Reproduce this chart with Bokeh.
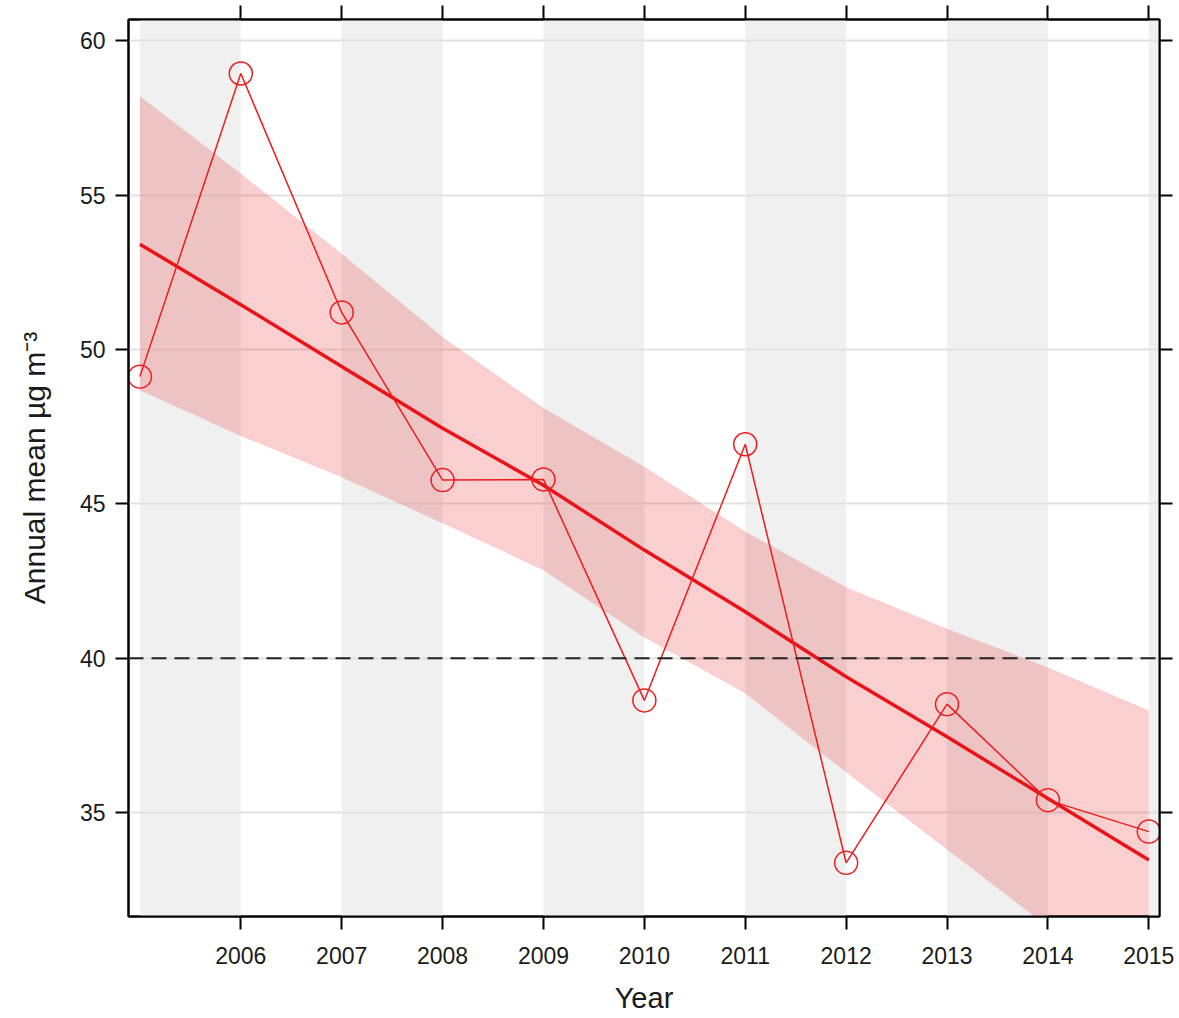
from bokeh.plotting import figure
from bokeh.models import Range1d, FixedTicker, LinearAxis, Span
from bokeh.embed import file_html
from bokeh.resources import INLINE

years = [2005, 2006, 2007, 2008, 2009, 2010, 2011, 2012, 2013, 2014, 2015]
annual_mean = [49.12, 58.94, 51.2, 45.77, 45.79, 38.63, 46.93, 33.37, 38.51, 35.4, 34.38]
trend = [53.41, 51.45, 49.45, 47.45, 45.6, 43.5, 41.5, 39.4, 37.45, 35.45, 33.46]
band_upper = [58.2, 55.7, 53.1, 50.4, 48.1, 46.2, 44.1, 42.3, 40.95, 39.7, 38.3]
band_lower = [48.68, 47.2, 45.86, 44.37, 42.85, 40.67, 38.86, 36.3, 33.8, 31.3, 29.8]
shade_left = [2005, 2007, 2009, 2011, 2013, 2015]
shade_right = [2006, 2008, 2010, 2012, 2014, 2016]
x_ticks = [2006, 2007, 2008, 2009, 2010, 2011, 2012, 2013, 2014, 2015]
y_ticks = [35, 40, 45, 50, 55, 60]
limit_value = 40

FONT = "Liberation Sans"
TXT = "#1a1a1a"

p = figure(frame_width=1031, frame_height=897,
           x_range=Range1d(2004.887, 2015.106), y_range=Range1d(31.63, 60.69),
           output_backend="svg", toolbar_location=None,
           min_border_left=128, min_border_top=19, min_border_right=16, min_border_bottom=102,
           x_axis_location="below", y_axis_location="left")
p.background_fill_color = "white"
p.border_fill_color = "white"
p.outline_line_color = "black"
p.outline_line_width = 2

# background shading
p.quad(left=shade_left, right=shade_right, bottom=0, top=100,
       fill_color="#f0f0f0", line_color=None, level="image")

p.xgrid.visible = False
p.ygrid.ticker = FixedTicker(ticks=y_ticks)
p.ygrid.grid_line_color = "#e2e2e2"
p.ygrid.grid_line_width = 2

# confidence band
p.varea(x=years, y1=band_lower, y2=band_upper, fill_color="#dd0000", fill_alpha=0.19)

# threshold
p.add_layout(Span(location=limit_value, dimension="width", line_color="#222222",
                  line_width=2, line_dash="15 8"))

# trend
p.line(years, trend, line_color="#e8141a", line_width=3.5)

# data
p.line(years, annual_mean, line_color="#ee1c1c", line_width=1.5)
p.scatter(years, annual_mean, size=23, marker="circle", fill_color=None,
          line_color="#ee1c1c", line_width=1.5)

def style_axis(ax):
    ax.axis_line_color = "black"
    ax.axis_line_width = 2
    ax.major_tick_line_color = "black"
    ax.major_tick_line_width = 2
    ax.major_tick_out = 13
    ax.major_tick_in = 0
    ax.minor_tick_line_color = None
    ax.major_label_text_font = FONT
    ax.major_label_text_color = TXT
    ax.major_label_text_font_size = "23px"
    ax.axis_label_text_font = FONT
    ax.axis_label_text_color = TXT
    ax.axis_label_text_font_size = "30px"
    ax.axis_label_text_font_style = "normal"

xa = p.xaxis[0]
xa.ticker = FixedTicker(ticks=x_ticks)
xa.axis_label = "Year"
style_axis(xa)
xa.axis_label_text_font_size = "29px"
xa.major_label_standoff = 17
xa.axis_label_standoff = 15

ya = p.yaxis[0]
ya.ticker = FixedTicker(ticks=y_ticks)
ya.axis_label = "Annual mean µg m⁻³"
style_axis(ya)
ya.major_label_standoff = 10
ya.axis_label_standoff = 26

top = LinearAxis(ticker=FixedTicker(ticks=x_ticks),
                 major_label_overrides={t: "" for t in x_ticks})
style_axis(top)
top.major_tick_out = 14
p.add_layout(top, "above")

right = LinearAxis(ticker=FixedTicker(ticks=y_ticks),
                   major_label_overrides={t: "" for t in y_ticks})
style_axis(right)
p.add_layout(right, "right")

open("out.html", "w").write(file_html(p, INLINE))
